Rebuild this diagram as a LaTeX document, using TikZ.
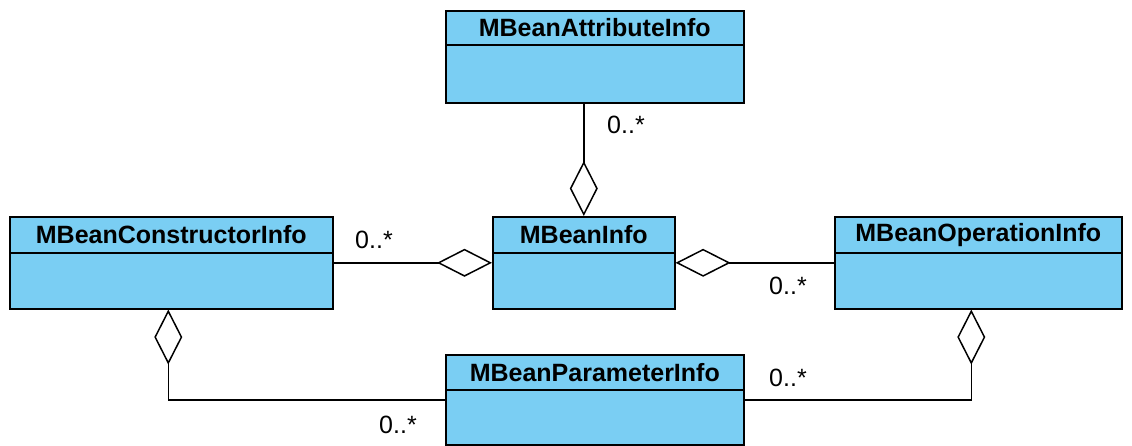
\documentclass[tikz,border=0pt]{standalone}
\usepackage{fontspec}
\setmainfont{Liberation Sans}
\usetikzlibrary{arrows.meta,positioning}
\definecolor{classblue}{RGB}{122,206,243}
\tikzstyle{agg} = [line width=1.5pt]

\begin{document}
\begin{tikzpicture}
    [x=1pt,y=-1pt,
    umlclass/.style={rectangle, draw, line width=1.6pt, fill=classblue,
    anchor=north west, inner sep=0pt},
    classname/.style={rectangle, draw, line width=1.6pt, fill=classblue,
    inner sep=0pt, font=\fontsize{25}{29}\selectfont\bfseries},
    mult/.style={font=\fontsize{25}{29}\selectfont, inner sep=0pt},
    diam/.tip={Diamond[open,length=55pt,width=28pt]}]
    \useasboundingbox (0,0) rectangle (1132,446);
    % classes
    \node[umlclass, minimum width=298pt, minimum height=92pt] (attr) at (445,10) {};
    \node[classname, minimum width=298pt, minimum height=34pt, below=0pt of attr.north] (attrT) {MBeanAttributeInfo};
    \node[umlclass, minimum width=323pt, minimum height=92pt] (ctor) at (9,216) {};
    \node[classname, minimum width=323pt, minimum height=36pt, below=0pt of ctor.north] (ctorT) {MBeanConstructorInfo};
    \node[umlclass, minimum width=182pt, minimum height=92pt] (info) at (492,216) {};
    \node[classname, minimum width=182pt, minimum height=36pt, below=0pt of info.north] (infoT) {MBeanInfo};
    \node[umlclass, minimum width=287pt, minimum height=92pt] (op) at (834,216) {};
    \node[classname, minimum width=287pt, minimum height=36pt, below=0pt of op.north] (opT) {MBeanOperationInfo};
    \node[umlclass, minimum width=298pt, minimum height=90pt] (param) at (445,354) {};
    \node[classname, minimum width=298pt, minimum height=35pt, below=0pt of param.north] (paramT) {MBeanParameterInfo};
    % aggregations
    \draw[agg,-diam] (attr.south -| info.north) -- (info.north);
    \draw[agg,-diam] (ctor.east) -- (info.west);
    \draw[agg,diam-] (info.east) -- (op.west);
    \draw[agg,diam-] ([xshift=-3pt]ctor.south) |- (param.west);
    \draw[agg,diam-] ([xshift=-7pt]op.south) |- (param.east);
    % multiplicities
    \node[mult] (m1) at (626,125) {0..*};
    \node[mult] (m2) at (374,240) {0..*};
    \node[mult] (m3) at (788,286) {0..*};
    \node[mult] (m4) at (788,378) {0..*};
    \node[mult] (m5) at (398,425) {0..*};
\end{tikzpicture}
\end{document}
